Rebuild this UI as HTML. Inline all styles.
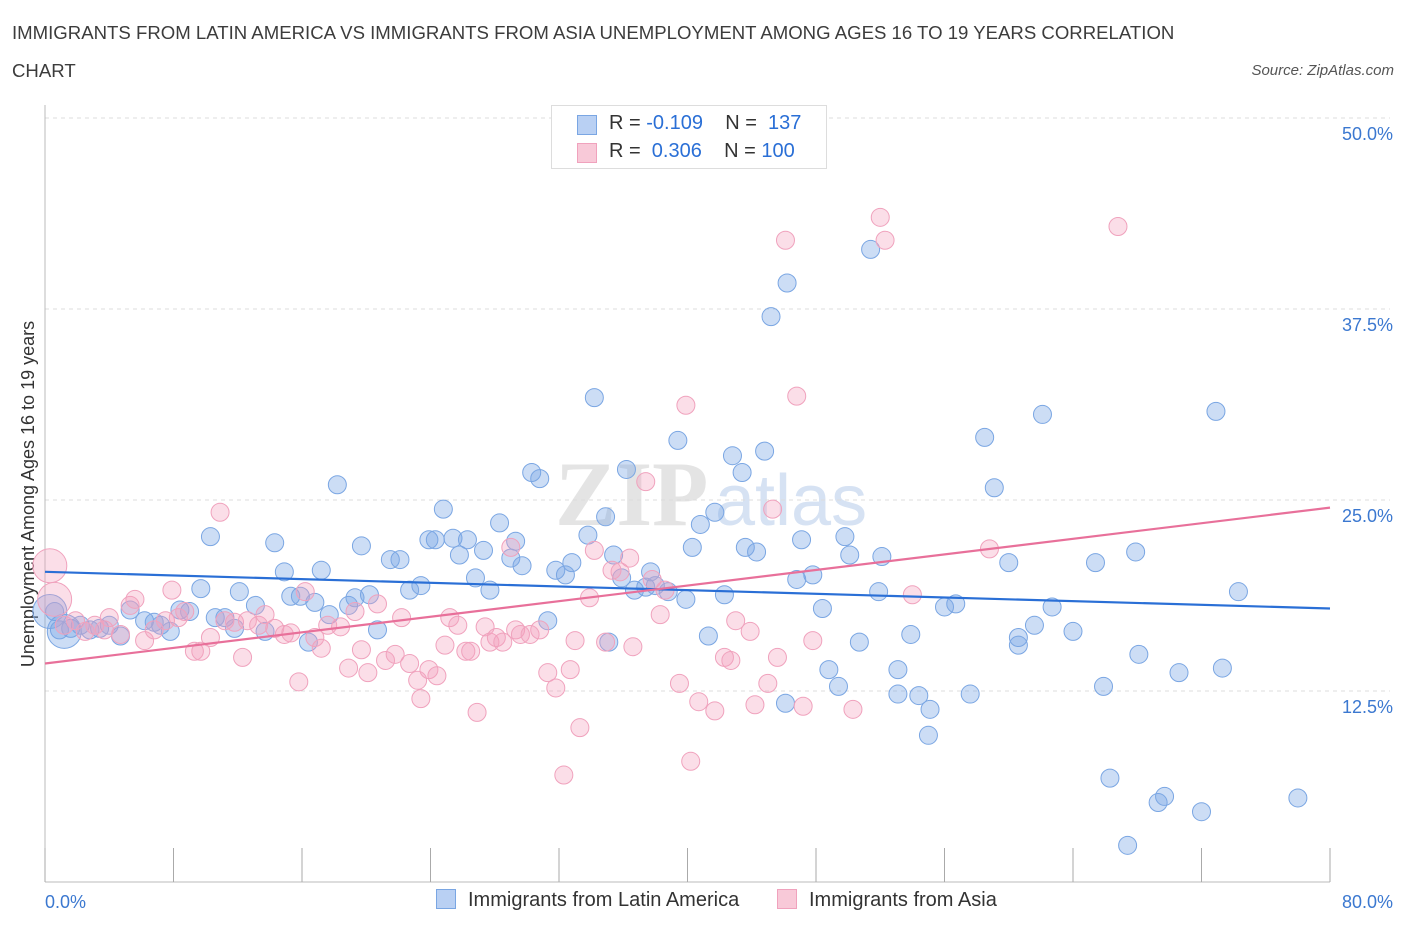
<!DOCTYPE html>
<html><head><meta charset="utf-8"><style>
body{margin:0;background:#fff;font-family:"Liberation Sans",sans-serif;}
#wrap{position:relative;width:1406px;height:930px;overflow:hidden;}
.t{position:absolute;white-space:nowrap;}
</style></head><body>
<div id="wrap">
<div class="t" style="left:12px;top:14px;font-size:18.6px;color:#3c3c3c;line-height:38px;">IMMIGRANTS FROM LATIN AMERICA VS IMMIGRANTS FROM ASIA UNEMPLOYMENT AMONG AGES 16 TO 19 YEARS CORRELATION<br>CHART</div>
<div class="t" style="right:12px;top:62px;font-size:15px;color:#555;font-style:italic;">Source: ZipAtlas.com</div>
<svg id="svg" width="1406" height="930" style="position:absolute;left:0;top:0"></svg>
</div>
<script>
const xTicksVals=[0,8,16,24,32,40,48,56,64,72,80];
const yTickVals=[12.5,25,37.5,50];
const yTickLabels=["12.5%","25.0%","37.5%","50.0%"];
const blueX=[0.6,0.9,1.6,2.2,2.8,3.4,4.0,4.7,5.3,6.2,6.8,7.2,7.8,8.4,9.0,9.7,10.3,10.6,11.2,11.8,12.1,13.1,13.7,14.3,14.9,15.3,15.9,16.4,16.8,17.2,17.7,18.2,18.9,19.3,19.7,20.2,20.7,21.5,22.1,22.7,23.4,23.9,24.3,24.8,25.4,25.8,26.3,26.8,27.3,27.7,28.3,29.0,29.3,29.7,30.3,30.8,31.3,31.8,32.4,32.8,33.8,34.2,34.9,35.1,35.4,35.9,36.2,36.7,37.4,37.7,38.0,38.8,39.4,39.9,40.3,40.8,41.3,41.7,42.3,42.8,43.4,43.6,44.3,44.8,45.2,46.1,46.2,46.8,47.1,47.8,48.4,48.8,49.4,49.8,50.1,50.7,51.4,51.9,52.1,53.1,53.1,53.9,54.4,55.1,55.0,56.0,56.7,57.6,58.5,59.1,60.0,60.6,60.6,61.6,62.1,62.7,64.0,65.4,65.9,66.3,67.4,67.9,68.1,69.3,69.7,70.6,72.0,72.9,73.3,74.3,78.0,0.3,1.2];
const blueY=[17.7,16.5,16.6,16.8,16.5,16.6,16.8,16.1,17.8,17.1,17.0,16.8,16.4,17.8,17.7,19.2,22.6,17.3,17.3,16.6,19.0,18.1,16.4,22.2,20.3,18.7,18.7,15.7,18.3,20.4,17.5,26.0,18.1,18.6,22.0,18.8,16.5,21.1,21.1,19.1,19.4,22.4,22.4,24.4,22.5,21.4,22.4,19.9,21.7,19.1,23.5,21.2,22.3,20.7,26.8,26.4,17.1,20.4,20.1,20.9,22.7,31.7,23.9,15.7,21.4,19.9,27.0,19.1,19.3,20.3,19.4,19.0,28.9,18.5,21.9,23.4,16.1,24.2,18.8,27.9,26.8,21.9,21.6,28.2,37.0,11.7,39.2,19.8,22.4,20.1,17.9,13.9,12.8,22.6,21.4,15.7,41.4,19.0,21.3,13.9,12.3,16.2,12.2,11.3,9.6,18.0,18.2,12.3,29.1,25.8,20.9,16.0,15.5,16.8,30.6,18.0,16.4,20.9,12.8,6.8,2.4,21.6,14.9,5.2,5.6,13.7,4.6,30.8,14.0,19.0,5.5,17.7,16.4];
const blueBig=[0.3,1.2];
const pinkX=[0.3,0.6,1.2,1.9,2.5,3.1,3.7,4.0,4.7,5.3,5.6,6.2,6.8,7.5,7.9,8.3,8.7,9.3,9.7,10.3,10.9,11.2,11.8,12.3,12.6,13.3,13.7,14.3,14.9,15.3,15.8,16.2,16.8,17.2,17.6,18.4,18.9,19.3,19.7,20.1,20.7,21.2,21.8,22.2,22.7,23.2,23.4,23.9,24.4,24.9,25.2,25.7,26.2,26.5,26.9,27.4,27.7,28.1,28.5,29.0,29.3,29.6,30.2,30.8,31.3,31.8,32.3,32.7,33.0,33.3,33.9,34.2,34.9,35.3,35.8,36.4,36.6,37.4,37.8,38.3,38.6,39.5,39.9,40.2,40.7,41.7,42.3,42.7,43.0,43.9,44.2,45.0,45.3,45.6,46.1,46.8,47.2,47.8,50.3,52.0,52.3,54.0,58.8,66.8];
const pinkY=[20.7,18.5,16.8,17.1,16.4,16.8,16.5,17.3,16.2,18.1,18.5,15.8,16.5,17.1,19.1,17.3,17.7,15.1,15.1,16.0,24.2,17.1,17.0,14.7,17.1,16.8,17.5,16.6,16.2,16.3,13.1,19.0,16.0,15.3,16.8,16.7,14.0,17.7,15.2,13.7,18.2,14.5,14.9,17.3,14.3,13.2,12.0,13.9,13.5,15.5,17.3,16.8,15.1,15.1,11.1,16.7,15.7,16.0,15.7,21.9,16.5,16.2,16.2,16.5,13.7,12.7,7.0,13.9,15.8,10.1,18.6,21.7,15.7,20.4,20.3,21.2,15.4,26.2,19.8,17.5,19.1,13.0,31.2,7.9,11.8,11.2,14.7,14.5,17.1,16.4,11.6,13.0,24.4,14.7,42.0,31.8,11.5,15.8,11.3,43.5,42.0,18.8,21.8,42.9];
const blueTrend=[20.3,17.9];
const pinkTrend=[14.3,24.5];
const NS="http://www.w3.org/2000/svg";
const svg=document.getElementById('svg');
const X0=45,X1=1330,Y0=882,YT=118;
const sx=v=>X0+(v/80)*(X1-X0);
const sy=v=>Y0-(v/50)*(Y0-YT);
function mk(t,a,p){const e=document.createElementNS(NS,t);for(const k in a)e.setAttribute(k,a[k]);(p||svg).appendChild(e);return e;}
let wm=mk('text',{x:555,y:525,'font-size':92,'font-family':'Liberation Serif,serif',fill:'#e4e4e4','font-weight':'bold'});wm.textContent='ZIP';


let wm2=mk('text',{x:715,y:525,'font-size':72,'font-family':'Liberation Sans,sans-serif',fill:'#d6e2f3'});wm2.textContent='atlas';


yTickVals.forEach((v,i)=>{
 const g=mk('line',{x1:X0,x2:X1+60,y1:sy(v),y2:sy(v),stroke:'#dcdcdc','stroke-dasharray':'4,4'});
 
 
 const t=mk('text',{x:1393,y:sy(v)+22,'text-anchor':'end','font-size':18,fill:'#3b78d0','font-family':'Liberation Sans,sans-serif'});t.textContent=yTickLabels[i];
 
 
});
const ax=mk('line',{x1:X0,x2:X1,y1:Y0,y2:Y0,stroke:'#bbb'});


const ay=mk('line',{x1:X0,x2:X0,y1:105,y2:Y0,stroke:'#bbb'});


xTicksVals.forEach(v=>{const l=mk('line',{x1:sx(v),x2:sx(v),y1:Y0-34,y2:Y0,stroke:'#aaa'});
 
 });
const xl0=mk('text',{x:45,y:908,'font-size':18,fill:'#3b78d0','font-family':'Liberation Sans,sans-serif'});xl0.textContent='0.0%';


const xl1=mk('text',{x:1393,y:908,'text-anchor':'end','font-size':18,fill:'#3b78d0','font-family':'Liberation Sans,sans-serif'});xl1.textContent='80.0%';


const yt=mk('text',{transform:'translate(34,494) rotate(-90)','text-anchor':'middle','font-size':18,fill:'#333','font-family':'Liberation Sans,sans-serif'});yt.textContent='Unemployment Among Ages 16 to 19 years';


blueX.forEach((x,i)=>{const isBig=i>=blueX.length-blueBig.length;
 const c=mk('circle',{cx:sx(x),cy:sy(blueY[i]),r:isBig?17:9,fill:'rgba(120,165,230,0.38)',stroke:'#7aa6e3','stroke-width':1});
 
 });
pinkX.forEach((x,i)=>{const isBig=i<2;
 const c=mk('circle',{cx:sx(x),cy:sy(pinkY[i]),r:isBig?17:9,fill:'rgba(244,160,190,0.35)',stroke:'#f0a2bd','stroke-width':1});
 
 });
const bl=mk('line',{x1:sx(0),x2:sx(80),y1:sy(blueTrend[0]),y2:sy(blueTrend[1]),stroke:'#2a6fd6','stroke-width':2.2});


const pl=mk('line',{x1:sx(0),x2:sx(80),y1:sy(pinkTrend[0]),y2:sy(pinkTrend[1]),stroke:'#e8709a','stroke-width':2.2});


</script>
<div class="t" style="left:551px;top:105px;width:274px;height:62px;border:1px solid #ddd;background:#fff;font-size:20px;">
 <div style="position:absolute;left:25px;top:9px;width:18px;height:18px;background:#b9d0f3;border:1px solid #7aa6e3;"></div>
 <div class="t" style="left:57px;top:6px;color:#333">R = <span style="color:#2a6fd6">-0.109</span>&nbsp;&nbsp;&nbsp; N = &nbsp;<span style="color:#2a6fd6">137</span></div>
 <div style="position:absolute;left:25px;top:37px;width:18px;height:18px;background:#f8c9d8;border:1px solid #f0a2bd;"></div>
 <div class="t" style="left:57px;top:34px;color:#333">R = &nbsp;<span style="color:#2a6fd6">0.306</span>&nbsp;&nbsp;&nbsp; N = <span style="color:#2a6fd6">100</span></div>
</div>
<div style="position:absolute;left:436px;top:889px;font-size:20px;color:#333;">
 <div style="position:absolute;left:0;top:0;white-space:nowrap;"><span style="display:inline-block;width:18px;height:18px;background:#b9d0f3;border:1px solid #7aa6e3;vertical-align:-3px;margin-right:12px"></span>Immigrants from Latin America</div>
 <div style="position:absolute;left:341px;top:0;white-space:nowrap;"><span style="display:inline-block;width:18px;height:18px;background:#f8c9d8;border:1px solid #f0a2bd;vertical-align:-3px;margin-right:12px"></span>Immigrants from Asia</div>
</div>
</body></html>
